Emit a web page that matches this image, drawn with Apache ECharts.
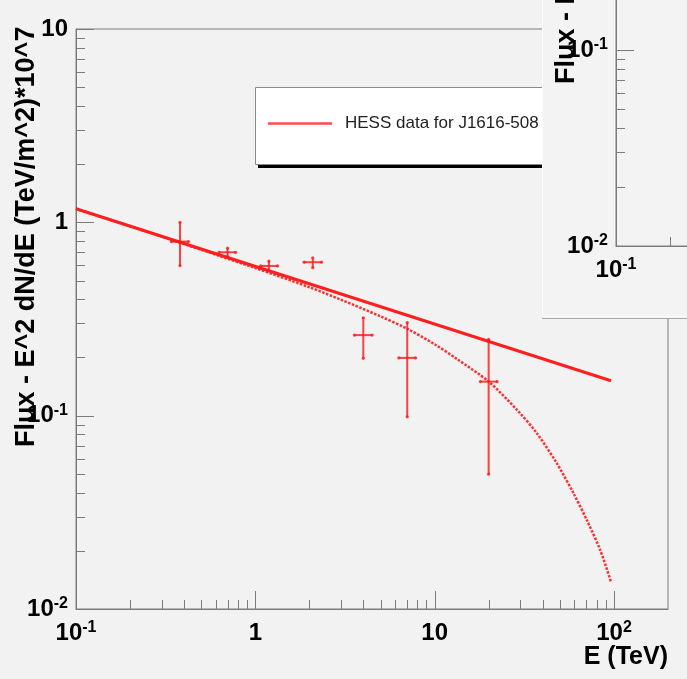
<!DOCTYPE html>
<html>
<head>
<meta charset="utf-8">
<script src="https://cdn.jsdelivr.net/npm/echarts@6/dist/echarts.min.js"></script>
<style>
  html, body { margin: 0; padding: 0; background: #f2f2f2; }
  #chart { width: 687px; height: 679px; }
</style>
</head>
<body>
<div id="chart"></div>
<script>
// Measured spectrum of HESS J1616-508: energy (TeV) with bin edges, flux with error range
const energy   = [0.38, 0.70, 1.19, 2.09, 4.00, 7.03, 20.0];
const energyLo = [0.34, 0.627, 1.07, 1.87, 3.57, 6.31, 18.0];
const energyHi = [0.424, 0.776, 1.33, 2.34, 4.48, 7.82, 22.3];
const flux     = [0.795, 0.700, 0.595, 0.622, 0.261, 0.199, 0.150];
const fluxLo   = [0.597, 0.665, 0.563, 0.583, 0.198, 0.0986, 0.0498];
const fluxHi   = [1.00, 0.735, 0.630, 0.655, 0.321, 0.303, 0.248];

// Power-law fit (a straight line in log-log)
const powerLawE = [0.1, 96.2];
const powerLawF = [1.175, 0.1515];

// Power law with exponential cutoff
const cutoffE = [0.1, 0.3, 1, 2, 3, 5, 7, 10, 13.35, 20, 28.8, 37.2, 48.1, 59.6, 70.7, 83.9, 96.2];
const cutoffF = [1.175, 0.845, 0.58, 0.462, 0.398, 0.326, 0.282, 0.234, 0.196, 0.150, 0.107, 0.0809, 0.0565, 0.0395, 0.0287, 0.0201, 0.0138];

// Axis ticks and their labels
const xMajorTicks = [0.1, 1, 10, 100];
const xTickLabels = ['10^-1', '1', '10', '10^2'];
const xMinorTicks = [0.2, 0.3, 0.4, 0.5, 0.6, 0.7, 0.8, 0.9,
                     2, 3, 4, 5, 6, 7, 8, 9,
                     20, 30, 40, 50, 60, 70, 80, 90];
const yMajorTicks = [0.01, 0.1, 1, 10];
const yTickLabels = ['10^-2', '10^-1', '1', '10'];
const yMinorTicks = [0.02, 0.03, 0.04, 0.05, 0.06, 0.07, 0.08, 0.09,
                     0.2, 0.3, 0.4, 0.5, 0.6, 0.7, 0.8, 0.9,
                     2, 3, 4, 5, 6, 7, 8, 9];

const seriesName = 'HESS data for J1616-508';
const yTitle = 'Flux - E^2 dN/dE (TeV/m^2)*10^7';
const xTitle = 'E (TeV)';

const X_MIN = 0.1, X_MAX = 200, Y_MIN = 0.01, Y_MAX = 10;
const FONT = '"Liberation Sans", Arial, Helvetica, sans-serif';
const GRAY = '#7c7c7c';
const RED = '#ff1f1f';

function supLabel(text) {
  const p = text.split('^');
  return p.length > 1 ? '{b|' + p[0] + '}{s|' + p[1] + '}' : '{b|' + p[0] + '}';
}
function makeFormatter(ticks, labels) {
  return function (v) {
    const lv = Math.log10(v);
    for (let i = 0; i < ticks.length; i++) {
      if (Math.abs(lv - Math.log10(ticks[i])) < 1e-6) return supLabel(labels[i]);
    }
    return '';
  };
}
const labelRich = {
  b: { fontFamily: FONT, fontWeight: 'bold', fontSize: 24, color: '#000', lineHeight: 26 },
  s: { fontFamily: FONT, fontWeight: 'bold', fontSize: 16, color: '#000', lineHeight: 16, verticalAlign: 'top' }
};

function axisPair(gridIndex, z) {
  const common = {
    type: 'log', logBase: 10, gridIndex: gridIndex, z: z,
    axisLine: { show: true, onZero: false, lineStyle: { color: GRAY, width: 1 } },
    axisTick: { show: false },
    splitLine: { show: false },
    minorTick: { show: false }
  };
  return {
    x: Object.assign({}, common, {
      min: X_MIN, max: X_MAX,
      axisLabel: { interval: 0, margin: 11, formatter: makeFormatter(xMajorTicks, xTickLabels), rich: labelRich }
    }),
    y: Object.assign({}, common, {
      min: Y_MIN, max: Y_MAX,
      axisLabel: { interval: 0, margin: 8, formatter: makeFormatter(yMajorTicks, yTickLabels), rich: labelRich }
    })
  };
}
const mainAxes = axisPair(0, 0);
const insetAxes = axisPair(1, 31);

// Tick marks drawn inward: kind 0 = x minor, 1 = x major, 2 = y minor, 3 = y major
const tickData = []
  .concat(xMinorTicks.map(v => [v, Y_MIN, 0]))
  .concat(xMajorTicks.map(v => [v, Y_MIN, 1]))
  .concat(yMinorTicks.map(v => [X_MIN, v, 2]))
  .concat(yMajorTicks.map(v => [X_MIN, v, 3]));

function renderTick(params, api) {
  const p = api.coord([api.value(0), api.value(1)]);
  const kind = api.value(2);
  const len = (kind === 1 || kind === 3) ? 18 : 9;
  let shape;
  if (kind < 2) {
    const x = Math.round(p[0]) + 0.5;
    shape = { x1: x, y1: p[1], x2: x, y2: p[1] - len };
  } else {
    const y = Math.round(p[1]) + 0.5;
    shape = { x1: p[0], y1: y, x2: p[0] + len, y2: y };
  }
  return { type: 'line', shape: shape, style: { stroke: GRAY, lineWidth: 1 } };
}

function tickSeries(idx, z) {
  return {
    type: 'custom', xAxisIndex: idx, yAxisIndex: idx, z: z, silent: true,
    renderItem: renderTick, data: tickData, encode: { x: 0, y: 1 }
  };
}

const errorData = energy.map((e, i) => [e, flux[i], energyLo[i], energyHi[i], fluxLo[i], fluxHi[i]]);
function renderError(params, api) {
  const x = api.value(0), y = api.value(1);
  const c = api.coord([x, y]);
  const xl = api.coord([api.value(2), y]);
  const xh = api.coord([api.value(3), y]);
  const yl = api.coord([x, api.value(4)]);
  const yh = api.coord([x, api.value(5)]);
  const st = { stroke: 'rgba(255,20,20,0.8)', lineWidth: 2 };
  const dot = { fill: 'rgba(255,20,20,0.8)' };
  return {
    type: 'group',
    children: [
      { type: 'line', shape: { x1: xl[0], y1: c[1], x2: xh[0], y2: c[1] }, style: st },
      { type: 'line', shape: { x1: c[0], y1: yh[1], x2: c[0], y2: yl[1] }, style: st },
      { type: 'circle', shape: { cx: xl[0], cy: c[1], r: 1.6 }, style: dot },
      { type: 'circle', shape: { cx: xh[0], cy: c[1], r: 1.6 }, style: dot },
      { type: 'circle', shape: { cx: c[0], cy: yh[1], r: 1.6 }, style: dot },
      { type: 'circle', shape: { cx: c[0], cy: yl[1], r: 1.6 }, style: dot }
    ]
  };
}

const chart = echarts.init(document.getElementById('chart'), null, { renderer: 'canvas' });
chart.setOption({
  backgroundColor: '#f2f2f2',
  animation: false,
  grid: [
    { left: 76, top: 29, width: 592, height: 580, show: true, borderColor: GRAY, borderWidth: 1,
      backgroundColor: 'transparent', z: 2, outerBoundsMode: 'none', containLabel: false },
    { left: 616, top: -342, width: 592, height: 588, show: true, borderColor: GRAY, borderWidth: 1,
      backgroundColor: 'transparent', z: 30, outerBoundsMode: 'none', containLabel: false }
  ],
  xAxis: [mainAxes.x, insetAxes.x],
  yAxis: [mainAxes.y, insetAxes.y],
  legend: {
    left: 263, top: 115,
    data: [{ name: seriesName, icon: 'rect', itemStyle: { color: '#ff4a4a' } }],
    itemWidth: 64, itemHeight: 2.5,
    padding: [0, 0, 0, 5],
    selectedMode: false,
    textStyle: { fontFamily: FONT, fontSize: 17, color: '#222', padding: [0, 0, 0, 8] },
    z: 11
  },
  series: [
    {
      name: seriesName, type: 'line', xAxisIndex: 0, yAxisIndex: 0, z: 5,
      data: powerLawE.map((e, i) => [e, powerLawF[i]]),
      symbol: 'none', silent: true,
      lineStyle: { color: RED, width: 3 }
    },
    {
      name: 'cutoff', type: 'line', xAxisIndex: 0, yAxisIndex: 0, z: 4,
      data: cutoffE.map((e, i) => [e, cutoffF[i]]),
      symbol: 'none', silent: true, smooth: 0.3,
      lineStyle: { color: 'rgba(255,25,25,0.9)', width: 2.5, type: [2.5, 1.5] }
    },
    {
      type: 'custom', xAxisIndex: 0, yAxisIndex: 0, z: 6, silent: true,
      renderItem: renderError, data: errorData, encode: { x: 0, y: 1 }
    },
    tickSeries(0, 3),
    tickSeries(1, 32)
  ],
  graphic: [
    // legend box with a hard drop shadow
    { type: 'rect', z: 9, shape: { x: 258, y: 90, width: 320, height: 78 }, style: { fill: '#000000' } },
    { type: 'rect', z: 10, shape: { x: 255.5, y: 87.5, width: 320, height: 77 }, style: { fill: '#ffffff', stroke: '#8a8a8a', lineWidth: 1 } },
    {
      type: 'text', x: 27, y: 447, rotation: Math.PI / 2, z: 8,
      style: { text: yTitle, font: 'bold 27px ' + FONT, fill: '#000', align: 'left', textAlign: 'left', verticalAlign: 'middle', textVerticalAlign: 'middle' }
    },
    {
      type: 'text', x: 668, y: 670, z: 8,
      style: { text: xTitle, font: 'bold 25px ' + FONT, fill: '#000', align: 'right', textAlign: 'right', verticalAlign: 'bottom', textVerticalAlign: 'bottom' }
    },
    // overlapping second canvas in the upper right corner
    { type: 'rect', z: 20, shape: { x: 542, y: -2, width: 150, height: 320 }, style: { fill: '#f3f3f3' } },
    { type: 'line', z: 21, shape: { x1: 542.5, y1: 0, x2: 542.5, y2: 317 }, style: { stroke: '#fbfbfb', lineWidth: 1 } },
    { type: 'line', z: 21, shape: { x1: 542, y1: 316.5, x2: 687, y2: 316.5 }, style: { stroke: '#fbfbfb', lineWidth: 1 } },
    { type: 'line', z: 21, shape: { x1: 542, y1: 318.5, x2: 687, y2: 318.5 }, style: { stroke: '#a8a8a8', lineWidth: 1.2 } },
    {
      type: 'text', x: 567, y: 84, rotation: Math.PI / 2, z: 35,
      style: { text: yTitle, font: 'bold 27px ' + FONT, fill: '#000', align: 'left', textAlign: 'left', verticalAlign: 'middle', textVerticalAlign: 'middle' }
    }
  ]
});
</script>
</body>
</html>
